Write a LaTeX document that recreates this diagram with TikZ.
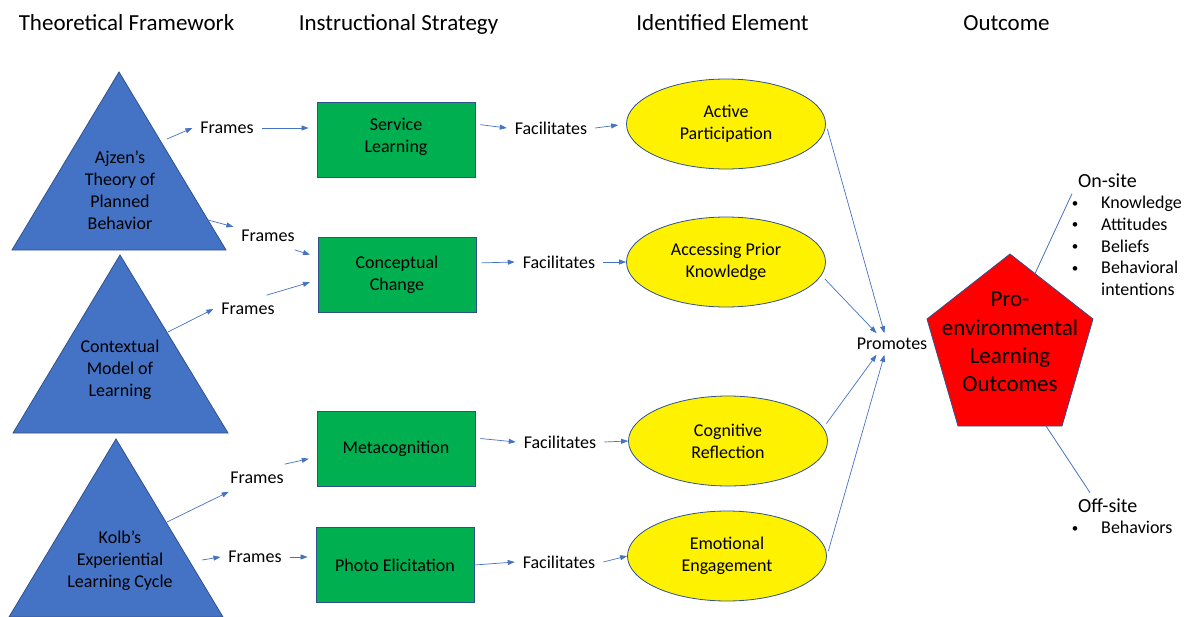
\documentclass[tikz,border=0pt]{standalone}
\usepackage{fontspec}
\setmainfont{Carlito}
\usetikzlibrary{arrows.meta,shapes.geometric}

\definecolor{triblue}{HTML}{4472C4}
\definecolor{edgeblue}{HTML}{2F528F}
\definecolor{boxgreen}{HTML}{00B050}

\begin{document}
\begin{tikzpicture}[x=1pt,y=-1pt,
  txt/.style={font=\fontsize{18}{22}\selectfont},
  head/.style={font=\fontsize{23}{27}\selectfont,anchor=base},
  sub/.style={font=\fontsize{20}{24}\selectfont,anchor=base west,outer sep=6pt},
  dot/.style={font=\fontsize{13}{15}\selectfont,anchor=base},
  tri/.style={fill=triblue,draw=edgeblue,line width=0.8pt},
  goal/.style={fill=red,draw=edgeblue,line width=0.8pt},
  strat/.style={txt,rectangle,fill=boxgreen,draw=edgeblue,line width=0.8pt,
    minimum width=158pt,minimum height=75pt,align=center},
  elem/.style={txt,ellipse,fill=yellow,draw=edgeblue,line width=0.8pt,
    minimum width=199pt,minimum height=90pt,align=center},
  lbl/.style={txt,outer sep=8pt},
  arr/.style={draw=triblue,line width=0.7pt,-{Triangle[length=7pt,width=5pt]}},
  into/.style={shorten >=8pt},
  outof/.style={shorten <=5pt},
  link/.style={draw=triblue,line width=0.8pt}]
\tikzstyle{every node}+=[inner sep=0pt]
\useasboundingbox (0,0) rectangle (1191,616);

% column titles
\node[head] (hFrame) at (126.5,30.5) {Theoretical Framework};
\node[head] (hStrat) at (398.5,30.5) {Instructional Strategy};
\node[head] (hElem) at (722.5,30.5) {Identified Element};
\node[head] (hOut) at (1006.5,30.5) {Outcome};

% frameworks
\draw[tri] (119,72) -- (226,250) -- (12,250) -- cycle;
\draw[tri] (120,255) -- (228,433) -- (13,433) -- cycle;
\draw[tri] (116,439) -- (223,617) -- (9,617) -- cycle;
\node[txt,align=center] (ajzen) at (120,190) {Ajzen’s\\Theory of\\Planned\\Behavior};
\node[txt,align=center] (context) at (120,370) {Contextual\\Model of\\Learning};
\node[txt,align=center] (kolb) at (120,561) {Kolb’s\\Experiential\\Learning Cycle};
\coordinate (ajzA) at (167,139);
\coordinate (ajzB) at (208,220);
\coordinate (ctxA) at (168,332);
\coordinate (kolbA) at (167,522);
\coordinate (kolbB) at (202,560);

% strategies
\node[strat] (service) at (396,140) {Service\\Learning\vspace{6pt}};
\node[strat] (concept) at (397,275) {Conceptual\\Change};
\node[strat] (meta) at (396,449) {Metacognition};
\node[strat] (photo) at (395,565) {Photo Elicitation};

% elements
\node[elem] (active) at (726,124) {Active\\Participation};
\node[elem] (prior) at (726,262) {Accessing Prior\\Knowledge};
\node[elem] (cogref) at (728,441) {Cognitive\\Reflection};
\node[elem] (emoeng) at (727,556) {Emotional\\Engagement};

% labels on the links
\node[lbl] (fr1) at (227,128) {Frames};
\node[lbl] (fr2) at (268,236) {Frames};
\node[lbl] (fr3) at (248,309) {Frames};
\node[lbl] (fr4) at (257,478) {Frames};
\node[lbl] (fr5) at (255,557) {Frames};
\node[lbl] (fa1) at (551,128) {Facilitates};
\node[lbl] (fa2) at (559,262) {Facilitates};
\node[lbl] (fa3) at (560,442) {Facilitates};
\node[lbl] (fa4) at (559,562) {Facilitates};
\node[lbl,outer sep=5pt] (prom) at (892,344) {Promotes};

% outcome
\draw[goal] (1010,254) -- (1093,319) -- (1062,426) -- (958,426) -- (927,319) -- cycle;
\node[font=\fontsize{23}{28.3}\selectfont,align=center] (plo) at (1010,342)
  {Pro-\\environmental\\Learning\\Outcomes};
\coordinate (pentUp) at (1035,273.6);
\coordinate (pentDn) at (1046,426);

\node[sub] (onsite) at (1072,187.5) {On-site};
\foreach \what/\yb [count=\i] in {Knowledge/208.7,Attitudes/230.4,Beliefs/252.2,Behavioral/273.9} {
  \node[dot] (ondot\i) at (1075,\yb-1.5) {•};
  \node[txt,anchor=base west] (onitem\i) at (1101,\yb) {\what};
}
\node[txt,anchor=base west] (onitem5) at (1101,295.6) {intentions};
\node[sub] (offsite) at (1072,512.5) {Off-site};
\node[dot] (offdot1) at (1075,532.2) {•};
\node[txt,anchor=base west] (offitem1) at (1101,533.7) {Behaviors};

% frames
\draw[arr] (ajzA) -- (fr1.west);
\draw[arr,into] (fr1.east) -- (fr1.east -| service.west);
\draw[arr] (ajzB) -- (fr2);
\draw[arr,into] ([xshift=-8pt]fr2.south east) -- ([yshift=18pt]concept.west);
\draw[arr] (ctxA) -- (fr3.west);
\draw[arr,into] ([xshift=-16pt]fr3.north east) -- ([yshift=-5pt]concept.west);
\draw[arr] (kolbA) -- (fr4);
\draw[arr,into] ([xshift=-7pt]fr4.north east) -- ([yshift=-8pt]meta.west);
\draw[arr] (kolbB) -- (fr5.west);
\draw[arr,into] (fr5.east) -- (fr5.east -| photo.west);

% facilitates
\draw[arr,outof] ([yshift=16pt]service.east) -- (fa1.west);
\draw[arr,into] (fa1.east) -- (active.west);
\draw[arr,outof] ([yshift=12pt]concept.east) -- (fa2.west);
\draw[arr] (fa2.east) -- (prior.west);
\draw[arr,outof] ([yshift=11pt]meta.east) -- (fa3.west);
\draw[arr] (fa3.east) -- (cogref.west);
\draw[arr] (photo.east) -- (fa4.west);
\draw[arr] (fa4.east) -- (emoeng.west);

% promotes
\draw[arr,outof] (active.east) -- (prom.125);
\draw[arr,outof] (prior.-8) -- (prom.145);
\draw[arr,outof] (cogref.8) -- (prom.215);
\draw[arr,outof] (emoeng.east) -- (prom.235);

% on-site / off-site
\draw[link] (pentUp) -- (onsite.south west);
\draw[link] (pentDn) -- ([xshift=18pt]offsite.north west);
\end{tikzpicture}
\end{document}
